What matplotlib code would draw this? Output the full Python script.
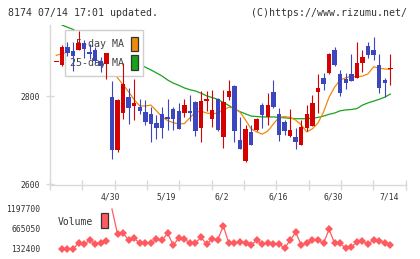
import numpy as np
import matplotlib.pyplot as plt
import matplotlib.transforms as mtransforms
from matplotlib.patches import Rectangle

plt.rcParams['font.family'] = ['DejaVu Sans Mono']

# daily candles (oldest -> newest)
opens = [2878, 2871, 2912, 2903, 2906, 2922, 2901, 2905, 2880, 2873,
         2798, 2679, 2763, 2798, 2779, 2776, 2764, 2760, 2739, 2760,
         2754, 2771, 2767, 2761, 2767, 2788, 2729, 2790, 2749, 2794,
         2708, 2799, 2823, 2701, 2654, 2718, 2724, 2780, 2754, 2810,
         2760, 2742, 2710, 2708, 2690, 2729, 2733, 2810, 2842, 2853,
         2905, 2851, 2839, 2851, 2842, 2876, 2914, 2905, 2870, 2837, 2861]
highs = [2878, 2917, 2923, 2923, 2948, 2928, 2919, 2912, 2890, 2898,
         2835, 2794, 2876, 2819, 2839, 2794, 2792, 2776, 2758, 2776,
         2794, 2776, 2785, 2794, 2802, 2790, 2812, 2812, 2814, 2796,
         2814, 2837, 2826, 2754, 2735, 2735, 2751, 2785, 2808, 2837,
         2774, 2745, 2771, 2729, 2746, 2780, 2803, 2851, 2853, 2898,
         2912, 2860, 2853, 2896, 2923, 2905, 2923, 2934, 2896, 2842, 2896]
lows = [2878, 2869, 2892, 2857, 2905, 2887, 2884, 2875, 2855, 2840,
        2658, 2674, 2749, 2736, 2747, 2759, 2735, 2697, 2702, 2706,
        2723, 2723, 2726, 2754, 2744, 2710, 2695, 2767, 2730, 2722,
        2683, 2792, 2697, 2681, 2651, 2690, 2721, 2727, 2734, 2773,
        2698, 2712, 2708, 2680, 2690, 2721, 2733, 2763, 2814, 2850,
        2869, 2801, 2817, 2834, 2842, 2856, 2888, 2883, 2808, 2799, 2826]
closes = [2878, 2912, 2898, 2892, 2922, 2908, 2895, 2880, 2868, 2898,
          2679, 2792, 2827, 2774, 2784, 2767, 2742, 2738, 2729, 2729,
          2749, 2748, 2726, 2780, 2763, 2720, 2789, 2794, 2769, 2724,
          2787, 2813, 2720, 2681, 2726, 2690, 2748, 2758, 2780, 2775,
          2713, 2720, 2723, 2695, 2731, 2760, 2785, 2818, 2829, 2896,
          2870, 2808, 2830, 2835, 2876, 2889, 2894, 2894, 2819, 2830, 2862]

ma5 = [2893, 2897, 2899, 2898, 2903, 2906, 2903, 2899, 2895, 2890,
       2860, 2842, 2826, 2810, 2792, 2778, 2778, 2780, 2767, 2753,
       2745, 2740, 2737, 2738, 2751, 2764, 2766, 2762, 2760, 2762,
       2769, 2775, 2773, 2764, 2746, 2726, 2719, 2714, 2721, 2737,
       2752, 2754, 2752, 2746, 2735, 2719, 2726, 2739, 2764, 2798,
       2821, 2837, 2842, 2845, 2844, 2846, 2851, 2867, 2864, 2862, 2861]
ma25 = [np.nan, 2962, 2957, 2952, 2945, 2939, 2932, 2925, 2919, 2912,
        2906, 2899, 2892, 2886, 2879, 2873, 2866, 2860, 2853, 2846,
        2837, 2830, 2825, 2819, 2815, 2812, 2807, 2801, 2797, 2793,
        2786, 2779, 2771, 2765, 2760, 2755, 2754, 2753, 2753, 2753,
        2752, 2751, 2750, 2749, 2749, 2749, 2750, 2752, 2755, 2759,
        2762, 2767, 2769, 2770, 2772, 2780, 2785, 2789, 2793, 2798, 2805]

volume = [np.nan, 136000, 132400, 138000, 284000, 257600, 364100, 273500, 284000, 337500,
          1197700, 531900, 550500, 372100, 417400, 284200, 292200, 300200, 390700, 364100,
          550500, 238900, 417400, 398700, 292200, 292200, 444000, 257600, 406700, 372100,
          752900, 284200, 284200, 326800, 300200, 238900, 364100, 265600, 300200, 257600,
          265600, 151000, 364100, 577100, 238900, 292200, 364100, 364100, 284200, 657000,
          284200, 284200, 151000, 193600, 310800, 337500, 257600, 372100, 337500, 300200, 238900]

date_labels = ["4/30", "5/19", "6/2", "6/16", "6/30", "7/14"]
date_index = [10, 20, 30, 40, 50, 60]

RED = '#d50000'
BLUE = '#3c46be'
ORANGE = '#f08a0a'
GREEN = '#19a319'
VOLC = '#ff5a5f'
GRID = '#d9d9d9'
TXT = '#333333'

W, H = 420, 259
fig = plt.figure(figsize=(W / 100, H / 100), dpi=100)
pix = mtransforms.Affine2D().scale(1 / W, -1 / H).translate(0, 1) + fig.transFigure


def box(l, t, r, b):
    return [l / W, 1 - b / H, (r - l) / W, (b - t) / H]


x = np.arange(len(closes))
o = np.array(opens, float)
c = np.array(closes, float)
col = np.where(c >= o, RED, BLUE)

# ---- price panel ----
ax = fig.add_axes(box(50, 25, 405.5, 184.5))
xl = (-1.13, 62.73)
ax.set_xlim(*xl)
ax.set_ylim(2599.5, 2962)

ax.plot(x, ma25, color=GREEN, lw=0.9, zorder=2)
ax.plot(x, ma5, color=ORANGE, lw=0.9, zorder=2)

ax.vlines(x, lows, highs, colors=col, lw=0.8, zorder=3)
body_lo = np.minimum(o, c)
body_h = np.maximum(np.abs(c - o), 2.2)
ax.bar(x, body_h, bottom=body_lo, width=0.8, color=col, linewidth=0, zorder=3.1)

for s in ['top', 'right']:
    ax.spines[s].set_visible(False)
for s in ['left', 'bottom']:
    ax.spines[s].set_color(GRID)
    ax.spines[s].set_linewidth(1.0)
ax.set_yticks([2600, 2800])
ax.set_xticks(np.linspace(xl[0], xl[1], 12))
ax.set_xticklabels([])
ax.tick_params(axis='y', direction='inout', length=5.8, width=1.0, color=GRID,
               labelsize=5.8, labelcolor=TXT, pad=4)
ax.tick_params(axis='x', direction='inout', length=6.5, width=1.0, color=GRID)

for lab, i in zip(date_labels, date_index):
    ax.text(i - 0.2, -0.08, lab, transform=ax.get_xaxis_transform(),
            ha='center', va='center', fontsize=5.8, color=TXT, clip_on=False)

# legend drawn under the candles, over the MA lines
ax.add_patch(Rectangle((65, 29.7), 77.7, 46.6, transform=pix, facecolor='white',
                       edgecolor='#cfcfcf', lw=1.0, zorder=2.5, clip_on=False))
ax.text(124, 44, "5-day MA", transform=pix, ha='right', va='center',
        fontsize=7.2, color='#444444', zorder=2.6)
ax.text(124, 62.5, "25-day MA", transform=pix, ha='right', va='center',
        fontsize=7.2, color='#444444', zorder=2.6)
ax.add_patch(Rectangle((131, 37), 6.7, 14.3, transform=pix, facecolor=ORANGE,
                       edgecolor='#333333', lw=0.9, zorder=2.6, clip_on=False))
ax.add_patch(Rectangle((131, 54.7), 6.7, 15, transform=pix, facecolor=GREEN,
                       edgecolor='#333333', lw=0.9, zorder=2.6, clip_on=False))

# ---- volume panel ----
vol = np.array(volume, float)
vmin, vmax = np.nanmin(vol), np.nanmax(vol)
per_px = (vmax - vmin) / 40.0
axv = fig.add_axes(box(50, 205, 405.5, 254))
axv.set_xlim(*xl)
axv.set_ylim(vmin - 5 * per_px, vmax + 4 * per_px)
axv.plot(x[:10], vol[:10], color=VOLC, lw=0.9, marker='D', ms=4.2, mew=0)
axv.plot(x[10:], vol[10:], color=VOLC, lw=0.9, marker='D', ms=4.2, mew=0,
         markevery=list(range(1, len(x) - 10)))
for s in axv.spines.values():
    s.set_visible(False)
axv.set_xticks([])
axv.set_yticks([vmin, (vmin + vmax) / 2, vmax])
axv.set_yticklabels([f"{int(v)}" for v in [vmin, (vmin + vmax) / 2, vmax]])
axv.tick_params(axis='y', length=0, labelsize=5.8, labelcolor=TXT, pad=7)

fig.text(58, 221.7, "Volume", transform=pix, ha='left', va='center', fontsize=7.0, color=TXT)
fig.patches.append(Rectangle((100.7, 213), 7, 15.3, transform=pix, facecolor=VOLC,
                             edgecolor='#333333', lw=0.9))

# ---- header ----
fig.text(8, 13.3, "8174 07/14 17:01 updated.", transform=pix, ha='left', va='center',
         fontsize=7.1, color=TXT)
fig.text(407, 13.3, "(C)https://www.rizumu.net/", transform=pix, ha='right', va='center',
         fontsize=7.1, color=TXT)

fig.savefig("out.png", dpi=100)
